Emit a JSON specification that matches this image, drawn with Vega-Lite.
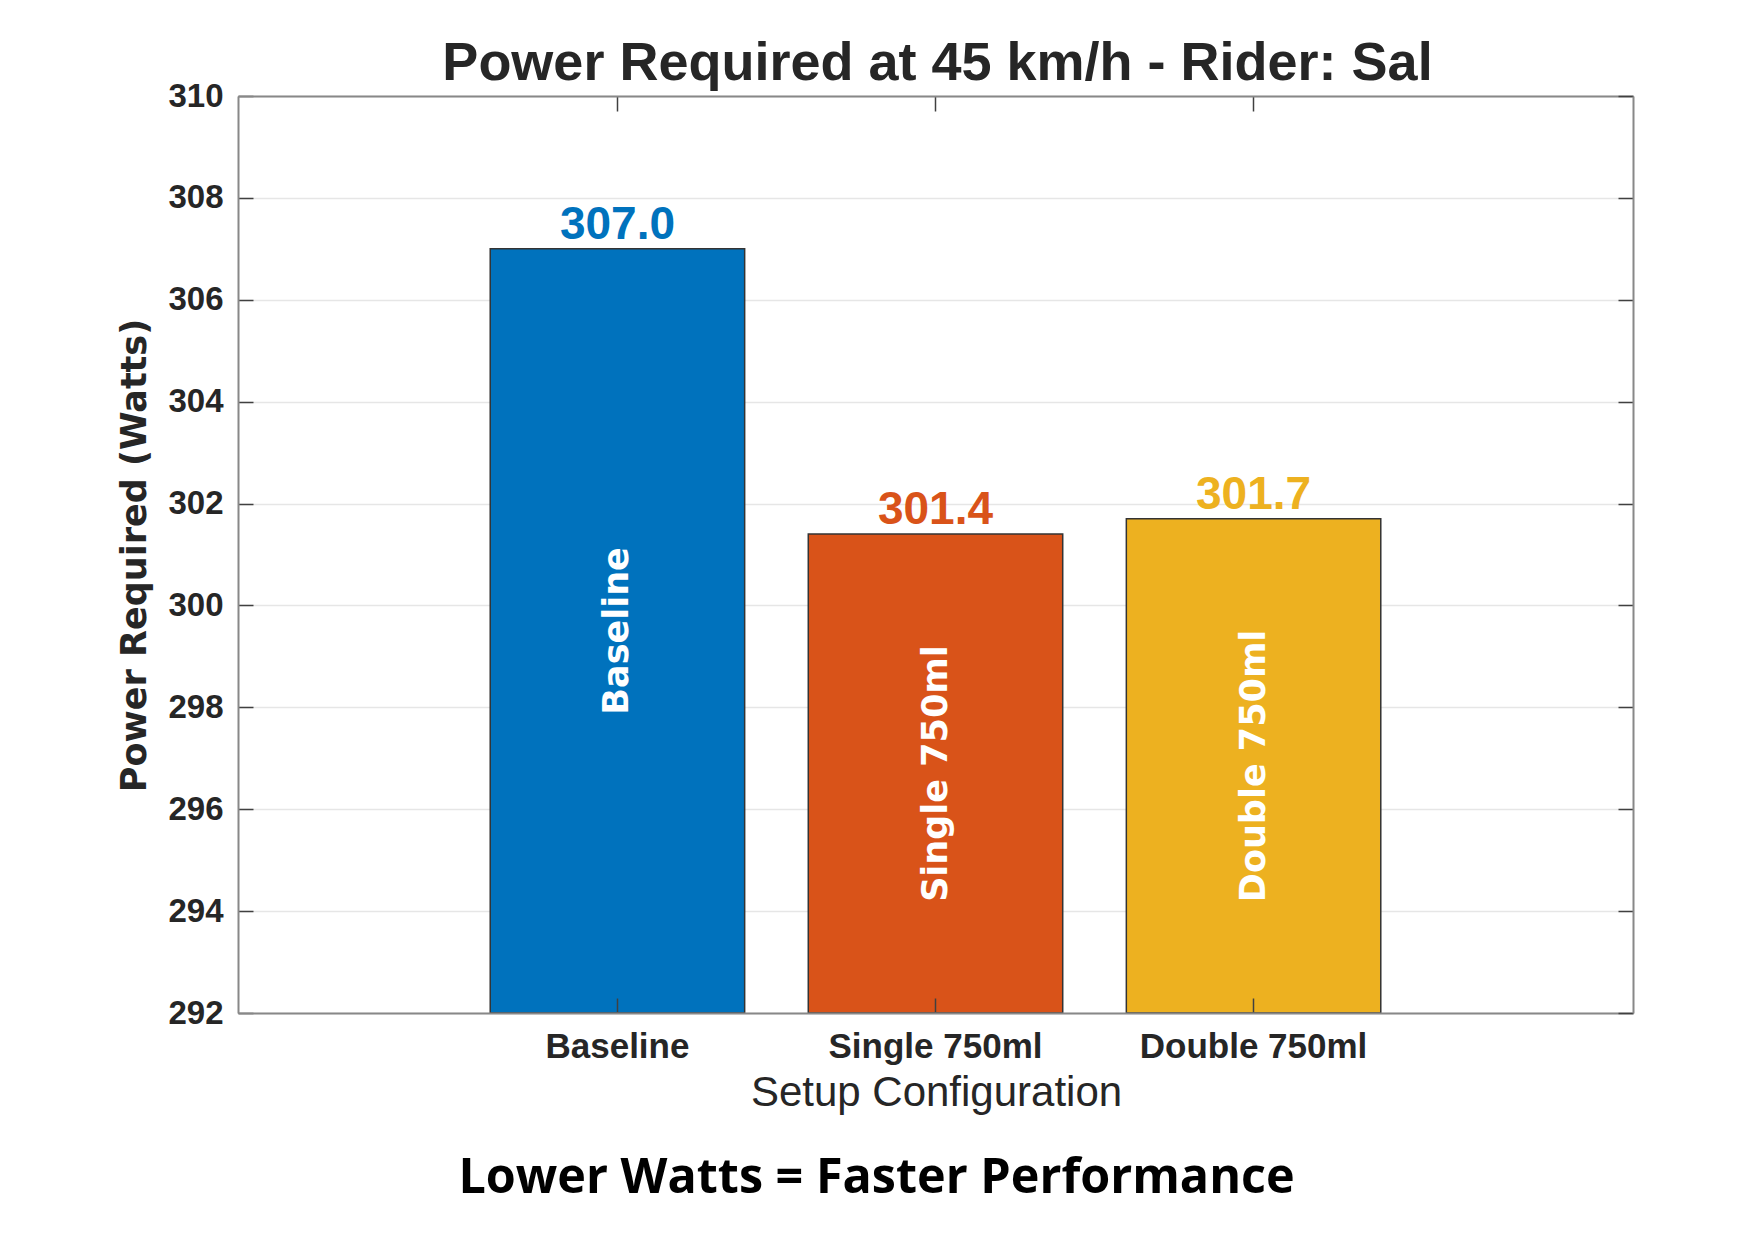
{
  "$schema": "https://vega.github.io/schema/vega-lite/v6.json",
  "width": 1395,
  "height": 917,
  "autosize": {"type": "none"},
  "padding": {"left": 238, "top": 96, "right": 115, "bottom": 227},
  "background": "white",
  "config": {"view": {"stroke": null}},
  "title": {
    "text": "Lower Watts = Faster Performance",
    "orient": "bottom",
    "anchor": "middle",
    "baseline": "alphabetic",
    "offset": 80,
    "dx": -59,
    "font": "Open Sans",
    "fontSize": 48.5,
    "fontWeight": "bold",
    "color": "#000000"
  },
  "data": {
    "values": [
      {"setup": "Baseline", "power": 307.0},
      {"setup": "Single 750ml", "power": 301.4},
      {"setup": "Double 750ml", "power": 301.7}
    ]
  },
  "layer": [
    {
      "encoding": {
        "x": {
          "field": "setup",
          "type": "nominal",
          "sort": null,
          "scale": {"paddingInner": 0.2, "paddingOuter": 0.793},
          "axis": {
            "orient": "bottom",
            "grid": false,
            "labelAngle": 0,
            "labelFont": "Liberation Sans",
            "labelFontWeight": "bold",
            "labelFontSize": 35,
            "labelColor": "#262626",
            "labelBaseline": "alphabetic",
            "labelPadding": 59,
            "labelLimit": 400,
            "tickSize": -15,
            "tickColor": "#404040",
            "tickWidth": 1.5,
            "domainColor": "#888888",
            "domainWidth": 2,
            "title": "Setup Configuration",
            "titleFont": "Liberation Sans",
            "titleFontSize": 42,
            "titleFontWeight": "normal",
            "titleColor": "#262626",
            "titleBaseline": "alphabetic",
            "titleX": 698,
            "titleY": 92,
            "zindex": 1
          }
        },
        "y": {
          "field": "power",
          "type": "quantitative",
          "scale": {"domain": [292, 310], "nice": false, "zero": false},
          "axis": {
            "values": [292, 294, 296, 298, 300, 302, 304, 306, 308, 310],
            "grid": true,
            "gridColor": "#e6e6e6",
            "gridWidth": 1.5,
            "labelFont": "Liberation Sans",
            "labelFontWeight": "bold",
            "labelFontSize": 33,
            "labelColor": "#262626",
            "labelPadding": 30,
            "tickSize": -15,
            "tickColor": "#404040",
            "tickWidth": 1.5,
            "domainColor": "#888888",
            "domainWidth": 2,
            "title": "Power Required (Watts)",
            "titleFont": "DejaVu Sans",
            "titleFontSize": 35,
            "titleFontWeight": "bold",
            "titleColor": "#262626",
            "titleAngle": 270,
            "titleBaseline": "alphabetic",
            "titleX": -93,
            "titleY": 459,
            "zindex": 0
          }
        }
      },
      "layer": [
        {
          "mark": {"type": "bar", "stroke": "#333333", "strokeWidth": 1.5},
          "encoding": {
            "y2": {"datum": 292},
            "color": {
              "field": "setup",
              "type": "nominal",
              "scale": {
                "domain": ["Baseline", "Single 750ml", "Double 750ml"],
                "range": ["#0072BD", "#D95319", "#EDB120"]
              },
              "legend": null
            }
          }
        },
        {
          "mark": {
            "type": "text",
            "font": "Liberation Sans",
            "fontWeight": "bold",
            "fontSize": 46,
            "baseline": "alphabetic",
            "dy": -10
          },
          "encoding": {
            "text": {"field": "power", "type": "quantitative", "format": ".1f"},
            "color": {"field": "setup", "type": "nominal", "legend": null}
          }
        },
        {
          "transform": [{"calculate": "(datum.power + 292) / 2", "as": "labelY"}],
          "mark": {
            "type": "text",
            "font": "DejaVu Sans",
            "fontWeight": "bold",
            "fontSize": 35,
            "angle": 270,
            "align": "center",
            "baseline": "middle",
            "color": "#ffffff"
          },
          "encoding": {
            "y": {"field": "labelY", "type": "quantitative"},
            "text": {"field": "setup", "type": "nominal"}
          }
        }
      ]
    },
    {
      "mark": {"type": "bar", "opacity": 0},
      "encoding": {
        "x": {
          "field": "setup",
          "type": "nominal",
          "sort": null,
          "axis": {
            "orient": "top",
            "grid": false,
            "labels": false,
            "tickSize": -15,
            "tickColor": "#404040",
            "tickWidth": 1.5,
            "domainColor": "#888888",
            "domainWidth": 2,
            "title": "Power Required at 45 km/h - Rider: Sal",
            "titleFont": "Liberation Sans",
            "titleFontSize": 54,
            "titleFontWeight": "bold",
            "titleColor": "#262626",
            "titleBaseline": "alphabetic",
            "titleX": 699,
            "titleY": -17,
            "zindex": 1
          }
        },
        "y": {
          "field": "power",
          "type": "quantitative",
          "axis": {
            "orient": "right",
            "values": [292, 294, 296, 298, 300, 302, 304, 306, 308, 310],
            "grid": false,
            "labels": false,
            "tickSize": -15,
            "tickColor": "#404040",
            "tickWidth": 1.5,
            "domainColor": "#888888",
            "domainWidth": 2,
            "title": null,
            "zindex": 1
          }
        },
        "y2": {"datum": 292}
      }
    }
  ],
  "resolve": {"axis": {"x": "independent", "y": "independent"}}
}
